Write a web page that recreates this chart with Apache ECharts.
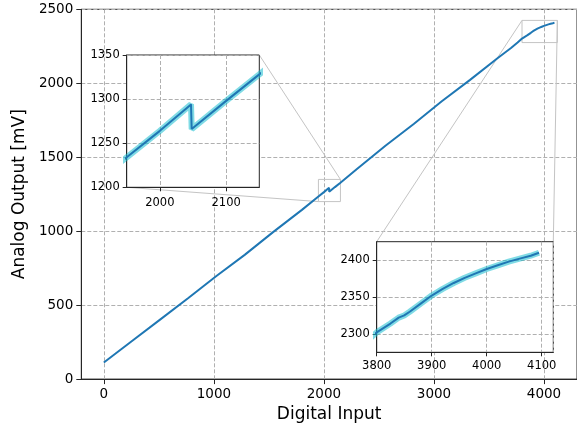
<!DOCTYPE html>
<html><head><meta charset="utf-8">
<script src="https://cdn.jsdelivr.net/npm/echarts@6/dist/echarts.min.js"></script>
<style>html,body{margin:0;padding:0;background:#fff}#c{width:577px;height:428px}</style>
</head><body><div id="c"></div>
<script>
// ---- data ----
const digitalInput = [0, 256, 511, 512, 768, 1023, 1024, 1280, 1535, 1536, 1800, 1950, 2000, 2047, 2048, 2100, 2150, 2300, 2559, 2560, 2816, 3071, 3072, 3328, 3583, 3584, 3700, 3760, 3800, 3825, 3840, 3850, 3860, 3880, 3900, 3920, 3940, 3960, 3980, 4000, 4020, 4040, 4060, 4080, 4095];
const analogOutput = [112, 258, 402, 396, 548, 697, 690, 840, 992, 985, 1144, 1234, 1264, 1294, 1266, 1298, 1328, 1420, 1577, 1570, 1725, 1878, 1871, 2023, 2172, 2166, 2238, 2275, 2302, 2314, 2322, 2325, 2330, 2341, 2352, 2361, 2369, 2376, 2382, 2388, 2393, 2398, 2402, 2406, 2410];

const mainXRange = [-204.75, 4299.75];
const mainYRange = [0, 2500];
const mainXTicks = [0, 1000, 2000, 3000, 4000];
const mainYInterval = 500;

const inset1XRange = [1950, 2150];
const inset1YRange = [1200, 1350];
const inset1XTicks = [2000, 2100];
const inset1YInterval = 50;

const inset2XRange = [3800, 4121];
const inset2YRange = [2275, 2425];
const inset2XInterval = 100;
const inset2YTicks = [2300, 2350, 2400];

const xLabel = 'Digital Input';
const yLabel = 'Analog Output [mV]';

// ---- styles ----
const FONT = 'DejaVu Sans';
const SPINE = '#262626';
const GRIDC = '#b0b0b0';
const BOXC = '#c4c4c4';
const LINEC = '#1f77b4';
const BANDC = 'rgba(23,190,207,0.55)';

const pts = digitalInput.map((x, i) => [x, analogOutput[i]]);
const plain = v => String(v);

const dashed = {show: true, lineStyle: {color: GRIDC, type: [4, 2], width: 1}};
function tick(len) { return {show: true, length: len, lineStyle: {color: SPINE, width: 1}}; }

const chart = echarts.init(document.getElementById('c'), null, {renderer: 'canvas'});

const option = {
  animation: false,
  backgroundColor: '#fff',
  grid: [
    {left: 81.3, top: 9.3, width: 499.7, height: 370, show: true, borderColor: SPINE, borderWidth: 1, backgroundColor: 'transparent', z: 0},
    {left: 126.7, top: 55, width: 132.6, height: 132.3, show: true, borderColor: SPINE, borderWidth: 1, backgroundColor: '#fff', z: 3},
    {left: 376.7, top: 241.7, width: 176.6, height: 110.6, show: true, borderColor: SPINE, borderWidth: 1, backgroundColor: '#fff', z: 3}
  ],
  xAxis: [
    {gridIndex: 0, type: 'value', min: mainXRange[0], max: mainXRange[1],
     axisLine: {show: true, onZero: false, lineStyle: {color: SPINE}}, axisTick: Object.assign(tick(5), {customValues: mainXTicks}),
     axisLabel: {customValues: mainXTicks, formatter: plain, margin: 8, fontFamily: FONT, fontSize: 13.5, color: '#000'},
     splitLine: dashed,
     name: xLabel, nameLocation: 'middle', nameGap: 25, nameTextStyle: {fontFamily: FONT, fontSize: 17, color: '#000'}},
    {gridIndex: 1, type: 'value', min: inset1XRange[0], max: inset1XRange[1], z: 4,
     axisLine: {show: true, onZero: false, lineStyle: {color: SPINE}}, axisTick: Object.assign(tick(4), {customValues: inset1XTicks}),
     axisLabel: {customValues: inset1XTicks, formatter: plain, margin: 10, fontFamily: FONT, fontSize: 11.5, color: '#000'},
     splitLine: dashed},
    {gridIndex: 2, type: 'value', min: inset2XRange[0], max: inset2XRange[1], interval: inset2XInterval, z: 4,
     axisLine: {show: true, onZero: false, lineStyle: {color: SPINE}}, axisTick: tick(4),
     axisLabel: {formatter: plain, margin: 8, fontFamily: FONT, fontSize: 11.5, color: '#000'},
     splitLine: dashed}
  ],
  yAxis: [
    {gridIndex: 0, type: 'value', min: mainYRange[0], max: mainYRange[1], interval: mainYInterval,
     axisLine: {show: true, onZero: false, lineStyle: {color: SPINE}}, axisTick: tick(5),
     axisLabel: {formatter: plain, margin: 8, fontFamily: FONT, fontSize: 13.5, color: '#000'},
     splitLine: dashed,
     name: yLabel, nameLocation: 'middle', nameGap: 49, nameTextStyle: {fontFamily: FONT, fontSize: 17, color: '#000'}},
    {gridIndex: 1, type: 'value', min: inset1YRange[0], max: inset1YRange[1], interval: inset1YInterval, z: 4,
     axisLine: {show: true, onZero: false, lineStyle: {color: SPINE}}, axisTick: tick(4),
     axisLabel: {formatter: plain, margin: 7, fontFamily: FONT, fontSize: 11.5, color: '#000'},
     splitLine: dashed},
    {gridIndex: 2, type: 'value', min: inset2YRange[0], max: inset2YRange[1], z: 4,
     axisLine: {show: true, onZero: false, lineStyle: {color: SPINE}}, axisTick: Object.assign(tick(4), {customValues: inset2YTicks}),
     axisLabel: {customValues: inset2YTicks, formatter: plain, margin: 7, fontFamily: FONT, fontSize: 11.5, color: '#000'},
     splitLine: dashed}
  ],
  series: [
    {type: 'line', xAxisIndex: 0, yAxisIndex: 0, data: pts, showSymbol: false, z: 2,
     lineStyle: {color: LINEC, width: 2}, clip: true,
     markArea: {silent: true, z: 1,
       itemStyle: {color: 'rgba(0,0,0,0)', borderColor: BOXC, borderWidth: 1},
       data: [
         [{coord: [inset1XRange[0], inset1YRange[0]]}, {coord: [inset1XRange[1], inset1YRange[1]]}],
         [{coord: [inset2XRange[0], inset2YRange[0]]}, {coord: [inset2XRange[1], inset2YRange[1]]}]
       ]}},
    {type: 'line', xAxisIndex: 1, yAxisIndex: 1, data: pts, showSymbol: false, z: 5, clip: true,
     lineStyle: {color: BANDC, width: 6}},
    {type: 'line', xAxisIndex: 1, yAxisIndex: 1, data: pts, showSymbol: false, z: 6, clip: true,
     lineStyle: {color: LINEC, width: 2}},
    {type: 'line', xAxisIndex: 2, yAxisIndex: 2, data: pts, showSymbol: false, z: 5, clip: true,
     lineStyle: {color: BANDC, width: 6}},
    {type: 'line', xAxisIndex: 2, yAxisIndex: 2, data: pts, showSymbol: false, z: 6, clip: true,
     lineStyle: {color: LINEC, width: 2}}
  ]
};
chart.setOption(option);

// connector lines between zoom boxes and insets, from the library's own scales
function px(grid, v) { return chart.convertToPixel({gridIndex: grid}, v); }
const connectors = [
  [px(1, [inset1XRange[0], inset1YRange[0]]), px(0, [inset1XRange[0], inset1YRange[0]])],
  [px(1, [inset1XRange[1], inset1YRange[1]]), px(0, [inset1XRange[1], inset1YRange[1]])],
  [px(2, [inset2XRange[0], inset2YRange[1]]), px(0, [inset2XRange[0], inset2YRange[1]])],
  [px(2, [inset2XRange[1], inset2YRange[1]]), px(0, [inset2XRange[1], inset2YRange[1]])]
];
chart.setOption({
  graphic: connectors.map(c => ({
    type: 'line', z: 1, silent: true,
    shape: {x1: c[0][0], y1: c[0][1], x2: c[1][0], y2: c[1][1]},
    style: {stroke: BOXC, lineWidth: 1}
  }))
});
</script></body></html>
